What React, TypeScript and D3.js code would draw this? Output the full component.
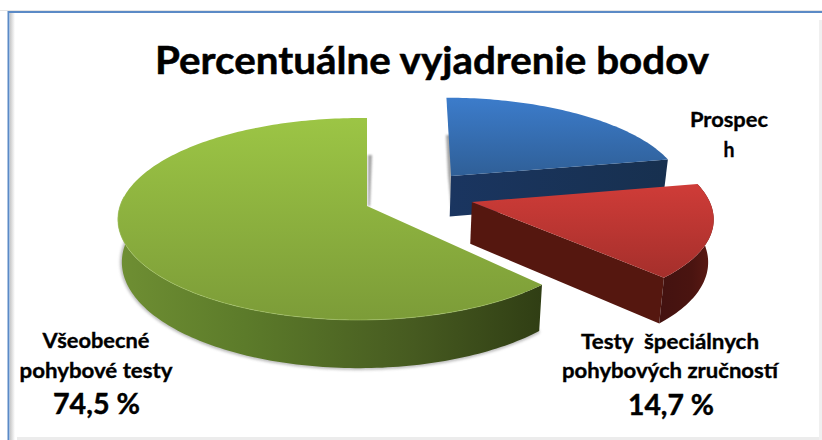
import React from "react";
import * as d3 from "d3";

const W = 822, H = 440;
const titleText = "Percentuálne vyjadrenie bodov";
// Angular shares as drawn in the picture, clockwise from 12 o'clock
const sliceNames = ["Prospech", "Testy špeciálnych pohybových zručností", "Všeobecné pohybové testy"];
const sliceShares = [21.9, 15.9, 62.2];
const sliceOffsetU = [0.354, 0.427, 0];
const sliceOffsetV = [-0.314, -0.04, 0];
const sliceRadiusU = [0.94, 0.962, 0.97];
const sliceRadiusV = [0.955, 0.972, 1];
const rimShiftU = [0.02, 0.006, -0.03];
const topColors = [["#3c7ccb", "#2f5f97"], ["#cf3c38", "#a52f2b"], ["#9cc545", "#7c9c38"]];
const labels = [
  { lines: ["Prospec", "h"], x: 729, ys: [127, 157], widths: [78, 11] },
  { lines: ["Testy  špeciálnych", "pohybových zručností"], x: 670, ys: [349, 378], widths: [178, 216] },
  { lines: ["Všeobecné", "pohybové testy"], x: 96, ys: [348, 378], widths: [107, 153] },
];
const values = [
  { text: "74,5 %", x: 96.5, y: 414, w: 87 },
  { text: "14,7 %", x: 671, y: 415, w: 86 },
];

const cx = 367, cy = 206, R = 247, S = 99.3, P = 0.1286, T = 42, BX = 0.984;
const project = (u: number, v: number, bottom = false): [number, number] => {
  const w = 1 / (1 - P * v);
  const x = R * u * w * (bottom ? BX : 1);
  return [cx + x, cy + S * v * w + (bottom ? T * w : 0)];
};

const pie = d3.pie<number>().sort(null).startAngle(0).endAngle(2 * Math.PI);
const arcs = pie(sliceShares);
const line = d3.line();

function rimPts(i: number, a0: number, a1: number, bottom = false) {
  const n = Math.max(1, Math.ceil((a1 - a0) / 0.02));
  return d3.range(n + 1).map((k) => {
    const a = a0 + ((a1 - a0) * k) / n;
    return project(
      sliceOffsetU[i] + rimShiftU[i] + sliceRadiusU[i] * Math.sin(a),
      sliceOffsetV[i] - sliceRadiusV[i] * Math.cos(a),
      bottom
    );
  });
}
const apex = (i: number, bottom = false) => project(sliceOffsetU[i], sliceOffsetV[i], bottom);

const [blue, red, green] = [0, 1, 2];

function topPath(i: number) {
  const a = arcs[i];
  const pts = rimPts(i, a.startAngle, a.endAngle);
  if (i === green) pts.push(project(0, -1));
  return line([apex(i), ...pts]) + "Z";
}
function wallFromPts(topPts: [number, number][], botPts: [number, number][]) {
  return line([...topPts, ...botPts.slice().reverse()]) + "Z";
}

const blueEnd = arcs[blue].endAngle;
const redEnd = arcs[red].endAngle;
const blueWall = wallFromPts(
  [apex(blue), rimPts(blue, blueEnd, blueEnd)[0]],
  [apex(blue, true), rimPts(blue, blueEnd, blueEnd, true)[0]]
);
const redInnerWall = wallFromPts(
  [apex(red), rimPts(red, redEnd, redEnd)[0]],
  [apex(red, true), rimPts(red, redEnd, redEnd, true)[0]]
);
const redOuterWall = wallFromPts(
  rimPts(red, arcs[red].startAngle, redEnd),
  rimPts(red, arcs[red].startAngle, redEnd, true)
);
const greenA0 = arcs[green].startAngle;
const greenA1 = (3 * Math.PI) / 2 + 0.1;
const greenWall = wallFromPts(
  rimPts(green, greenA0, greenA1),
  rimPts(green, greenA0, greenA1, true)
);
const greenBottomEdge = line(rimPts(green, greenA0, greenA1, true)) || "";
const greenRim = line(rimPts(green, greenA0 + 0.1, greenA1)) || "";
const blueBackShadow = wallFromPts(
  [[apex(blue)[0] - 5, 135], [apex(blue)[0] - 3, 175]],
  [[apex(blue)[0] + 1, 135], [apex(blue)[0] + 1, 218]]
);
const greenBackShadow = wallFromPts(
  [[cx + 1, 155], [cx + 1, 206]],
  [[cx + 5, 155], [cx + 3, 206]]
);

const font = "Lato, 'Open Sans', sans-serif";

export default function App() {
  return (
    <svg
      width={W}
      height={H}
      viewBox={`0 0 ${W} ${H}`}
      style={{ position: "absolute", left: 0, top: 0, background: "#fff" }}
    >
      <defs>
        {["b", "r", "g"].map((k, i) => (
          <linearGradient key={k} id={`top-${k}`} x1="0" y1="0" x2="0" y2="1">
            <stop offset="0" stopColor={topColors[i][0]} />
            <stop offset="1" stopColor={topColors[i][1]} />
          </linearGradient>
        ))}
        <linearGradient id="wall-b" x1="0" y1="0" x2="1" y2="0">
          <stop offset="0" stopColor="#1a3560" />
          <stop offset="1" stopColor="#17304f" />
        </linearGradient>
        <linearGradient id="wall-g" x1="0" y1="0" x2="1" y2="0">
          <stop offset="0" stopColor="#6f8f33" />
          <stop offset="0.3" stopColor="#5c7b2a" />
          <stop offset="0.7" stopColor="#465a20" />
          <stop offset="1" stopColor="#303e14" />
        </linearGradient>
        <linearGradient id="wall-r-outer" x1="0" y1="0" x2="1" y2="0">
          <stop offset="0" stopColor="#431210" />
          <stop offset="0.6" stopColor="#4a1410" />
          <stop offset="1" stopColor="#5e1a14" />
        </linearGradient>
        <linearGradient id="frameLeft" x1="0" y1="0" x2="1" y2="0">
          <stop offset="0" stopColor="#c8c8c8" />
          <stop offset="1" stopColor="#ffffff" />
        </linearGradient>
        <filter id="blur" x="-10%" y="-10%" width="120%" height="120%">
          <feGaussianBlur stdDeviation="1.6" />
        </filter>
        <filter id="blur2" x="-50%" y="-10%" width="200%" height="120%">
          <feGaussianBlur stdDeviation="0.8" />
        </filter>
      </defs>

      {/* frame */}
      <rect x={10} y={13} width={5} height={427} fill="url(#frameLeft)" />
      <rect x={0} y={10} width={W} height={1} fill="#e4e4e4" />
      <rect x={8} y={11} width={814} height={2} fill="#5b8ac6" />
      <rect x={7.5} y={11} width={2} height={429} fill="#5b8ac6" />
      <rect x={17} y={437} width={805} height={3} fill="#ececec" />
      <rect x={819} y={20} width={3} height={420} fill="#f0f0f0" />

      {/* title */}
      <text
        x={432}
        y={74}
        textAnchor="middle"
        fontFamily={font}
        fontWeight={700}
        fontSize={38}
        textLength={554}
        lengthAdjust="spacingAndGlyphs"
        fill="#000"
        stroke="#000"
        strokeWidth={0.5}
      >
        {titleText}
      </text>

      {/* back shadows */}
      <path d={blueBackShadow} fill="#7d7d7d" opacity={0.7} filter="url(#blur2)" />
      <path d={greenBackShadow} fill="#7d7d7d" opacity={0.7} filter="url(#blur2)" />

      {/* blue slice */}
      <path d={blueWall} fill="url(#wall-b)" />
      <path d={topPath(blue)} fill="url(#top-b)" />

      {/* green slice */}
      <path d={greenBottomEdge} fill="none" stroke="#777" strokeWidth={3} opacity={0.6} filter="url(#blur)" />
      <path d={greenWall} fill="url(#wall-g)" />
      <path d={topPath(green)} fill="url(#top-g)" />
      <path d={greenRim} fill="none" stroke="#a9c76a" strokeWidth={0.8} opacity={0.7} />

      {/* red slice */}
      <path d={redInnerWall} fill="#55170f" />
      <path d={redOuterWall} fill="url(#wall-r-outer)" />
      <path d={topPath(red)} fill="url(#top-r)" />

      {/* labels */}
      {labels.map((l) =>
        l.lines.map((t, i) => (
          <text
            key={t}
            x={l.x}
            y={l.ys[i]}
            textAnchor="middle"
            fontFamily={font}
            fontWeight={700}
            fontSize={21}
            fill="#000"
            stroke="#000"
            strokeWidth={0.35}
            textLength={l.widths[i]}
            lengthAdjust="spacingAndGlyphs"
            style={{ whiteSpace: "pre" }}
          >
            {t}
          </text>
        ))
      )}
      {values.map((v) => (
        <text
          key={v.text}
          x={v.x}
          y={v.y}
          textAnchor="middle"
          fontFamily={font}
          fontWeight={700}
          fontSize={28}
          fill="#000"
          stroke="#000"
          strokeWidth={0.4}
          textLength={v.w}
          lengthAdjust="spacingAndGlyphs"
        >
          {v.text}
        </text>
      ))}
    </svg>
  );
}
